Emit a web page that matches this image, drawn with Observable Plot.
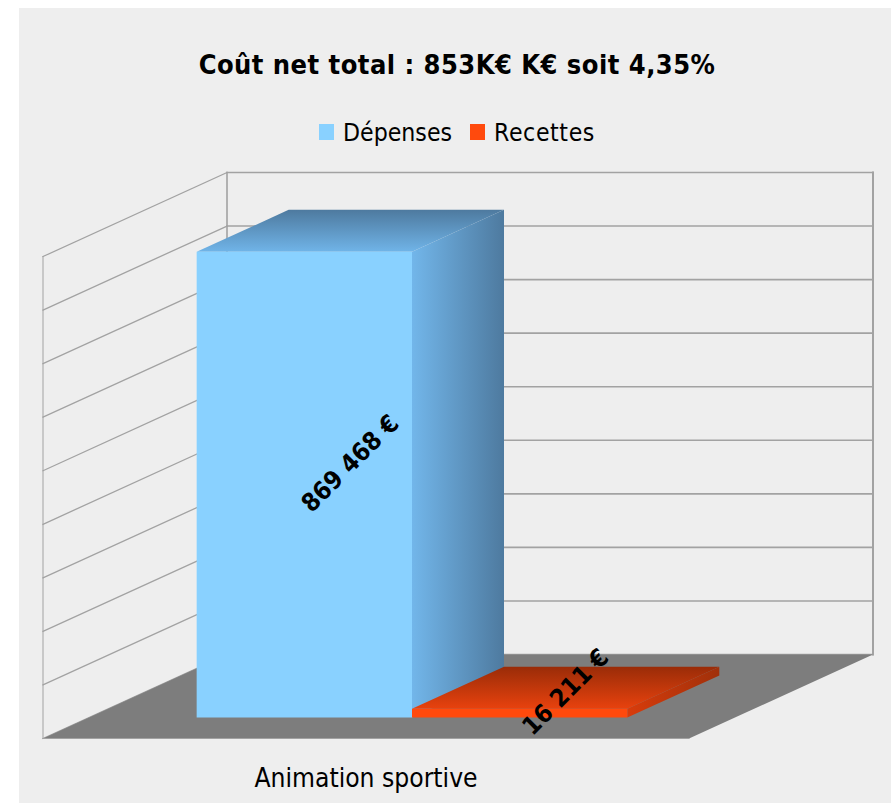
<!DOCTYPE html>
<html><head><meta charset="utf-8">
<script src="https://cdn.jsdelivr.net/npm/d3@7"></script>
<script src="https://cdn.jsdelivr.net/npm/@observablehq/plot@0.6"></script>
<style>
html,body{margin:0;padding:0;background:#fff}
body{width:891px;height:803px;overflow:hidden;font-family:"DejaVu Sans Condensed","DejaVu Sans",sans-serif;color:#000}
#panel{position:absolute;left:19px;top:8px;width:872px;height:795px;background:#eeeeee}
#title{position:absolute;left:0;width:876px;top:38px;text-align:center;font-weight:bold;font-size:27px;line-height:38px;letter-spacing:0.47px}
#legend{position:absolute;left:300px;top:106px;height:36px;display:flex;align-items:center;font-size:24.6px}
#legend span.s{width:15px;height:16px;display:inline-block;margin-right:9px}
#legend span.t{margin-right:18px}
#legend span.t:last-child{letter-spacing:0.6px}
#chart{position:absolute;left:0;top:152px}
svg{display:block}
</style></head><body>
<div id="panel">
  <div id="title"></div>
  <div id="legend"></div>
  <div id="chart"></div>
</div>
<script>
const titleText = "Coût net total : 853K€ K€ soit 4,35%";
const categories = ["Animation sportive"];
const seriesNames = ["Dépenses", "Recettes"];
const seriesValues = [869468, 16211];
const seriesLabels = ["869 468 €", "16 211 €"];
const gridValues = [0, 100000, 200000, 300000, 400000, 500000, 600000, 700000, 800000, 900000];

const frontColors = ["#89d1ff", "#ff4a0d"];
const topColors = [["#4e7a9f", "#70b4e8"], ["#9a2c08", "#e8420e"]];
const sideColors = [["#72b6ea", "#4e7a9f"], ["#d83c0c", "#a0300a"]];

// Oblique 3D projection: one unit of depth moves this far along x and y
const obliqueX = 1.709, obliqueY = 156846;
const pt = (u, d, v) => ({x: u + d * obliqueX, y: v + d * obliqueY});
const face = (pts, fill) => Plot.line(pts, {x: "x", y: "y", fill, stroke: "none", curve: "linear-closed"});
const edge = (a, b, strokeWidth) => Plot.link([{a, b}], {
  x1: d => d.a.x, y1: d => d.a.y, x2: d => d.b.x, y2: d => d.b.y,
  stroke: "#a2a2a2", strokeWidth, strokeLinecap: "square"
});

const defs = () => {
  const s = d3.create("svg:defs");
  const grad = (id, stops, vertical) => {
    const g = s.append("linearGradient").attr("id", id)
      .attr("x1", 0).attr("y1", 0).attr("x2", vertical ? 0 : 1).attr("y2", vertical ? 1 : 0);
    stops.forEach((c, i) => g.append("stop").attr("offset", i).attr("stop-color", c));
  };
  seriesValues.forEach((_, i) => {
    grad("top" + i, topColors[i], true);
    grad("side" + i, sideColors[i], false);
  });
  return s.node();
};

const uMax = 6, dFront = 0.25, dBack = 0.75, vMax = 900000;
const walls = [];
for (const v of gridValues) {
  walls.push(edge(pt(0, 0, v), pt(0, 1, v), 1.3));
  walls.push(edge(pt(0, 1, v), pt(uMax, 1, v), 1.6));
}
walls.push(edge(pt(0, 0, 0), pt(0, 0, vMax), 1));
walls.push(edge(pt(0, 1, 0), pt(0, 1, vMax), 1.6));
walls.push(edge(pt(uMax, 1, 0), pt(uMax, 1, vMax), 2));

const floor = [
  face([pt(0,0,0), pt(uMax,0,0), pt(uMax,1,0), pt(0,1,0)], "#7d7d7d"),
  edge(pt(0,0,0), pt(uMax,0,0), 1)
];

const bars = seriesValues.flatMap((v, i) => {
  const u0 = 1 + 2 * i, u1 = u0 + 2;
  return [
    face([pt(u1,dFront,0), pt(u1,dBack,0), pt(u1,dBack,v), pt(u1,dFront,v)], `url(#side${i})`),
    face([pt(u0,dFront,v), pt(u1,dFront,v), pt(u1,dBack,v), pt(u0,dBack,v)], `url(#top${i})`),
    face([pt(u0,dFront,0), pt(u1,dFront,0), pt(u1,dFront,v), pt(u0,dFront,v)], frontColors[i])
  ];
});

const labelData = seriesValues.map((v, i) => ({...pt(2 + 2 * i, 0.5, v / 2), text: seriesLabels[i]}));

const chart = Plot.plot({
  width: 872, height: 643,
  marginLeft: 23.5, marginRight: 202.5, marginTop: 96, marginBottom: 65,
  x: {domain: [0, uMax], axis: null},
  y: {domain: [0, vMax], axis: null},
  style: {background: "transparent", fontFamily: '"DejaVu Sans Condensed","DejaVu Sans",sans-serif', overflow: "visible"},
  marks: [
    defs,
    ...walls,
    ...floor,
    ...bars,
    Plot.text(labelData, {x: "x", y: "y", text: "text", rotate: -45, fontSize: 25, fontWeight: "bold", fill: "#000"}),
    Plot.axisX([3], {anchor: "bottom", label: null, tickSize: 0, tickPadding: 30, fontSize: 26.2, tickFormat: () => categories[0], fill: "#000"})
  ]
});
document.getElementById("chart").appendChild(chart);

document.getElementById("title").textContent = titleText;
const legend = d3.select("#legend");
seriesNames.forEach((n, i) => {
  legend.append("span").attr("class", "s").style("background", frontColors[i]);
  legend.append("span").attr("class", "t").text(n);
});
</script>
</body></html>
